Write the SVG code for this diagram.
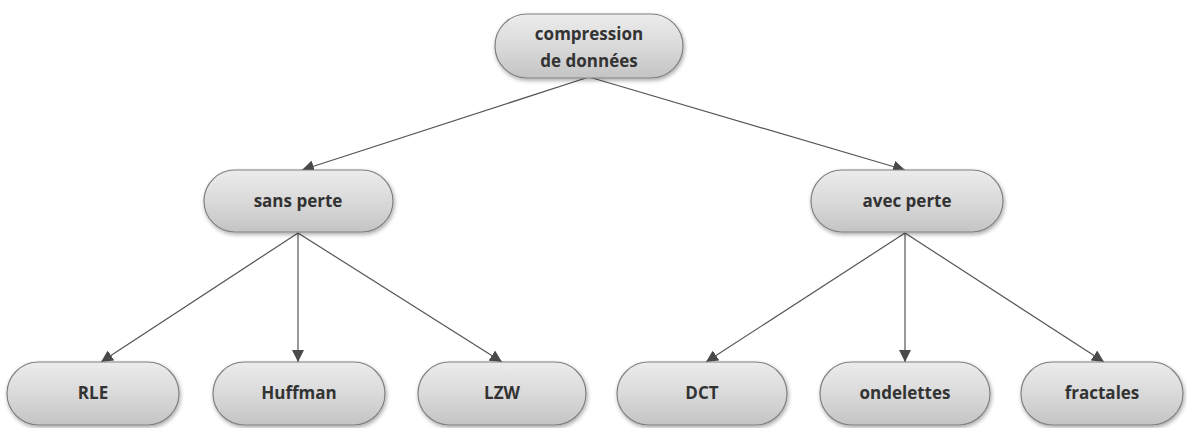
<svg xmlns="http://www.w3.org/2000/svg" width="1187" height="428" viewBox="0 0 1187 428">
<defs>
<linearGradient id="g" x1="0" y1="0" x2="0" y2="1">
<stop offset="0" stop-color="#ececec"/>
<stop offset="0.5" stop-color="#dadada"/>
<stop offset="1" stop-color="#c4c4c4"/>
</linearGradient>
<filter id="sh" x="-10%" y="-20%" width="120%" height="150%">
<feGaussianBlur in="SourceAlpha" stdDeviation="2"/>
<feOffset dx="1" dy="2" result="b"/>
<feComponentTransfer><feFuncA type="linear" slope="0.35"/></feComponentTransfer>
<feMerge><feMergeNode/><feMergeNode in="SourceGraphic"/></feMerge>
</filter>
<marker id="ah" viewBox="0 0 10 10" refX="10" refY="5" markerWidth="12" markerHeight="12" markerUnits="userSpaceOnUse" orient="auto">
<path d="M0,0 L10,5 L0,10 z" fill="#4a4a4a"/>
</marker>
</defs>
<style>
.n rect{fill:url(#g);stroke:#808080;stroke-width:1.2;filter:url(#sh)}
.n text{font-family:"Open Sans","DejaVu Sans",sans-serif;font-weight:700;font-size:17px;fill:#333;text-anchor:middle}
.c line{stroke:#555;stroke-width:1.2;marker-end:url(#ah)}
</style>
<rect width="1187" height="428" fill="#fff"/>
<g class="c">
<line x1="589" y1="77" x2="302" y2="170"/>
<line x1="589" y1="77" x2="905" y2="170"/>
<line x1="298" y1="233" x2="101" y2="362"/>
<line x1="298" y1="233" x2="298" y2="362"/>
<line x1="298" y1="233" x2="502" y2="362"/>
<line x1="905" y1="233" x2="706" y2="362"/>
<line x1="905" y1="233" x2="905" y2="362"/>
<line x1="905" y1="233" x2="1104" y2="362"/>
</g>
<g id="root" class="n"><rect x="495" y="14" width="188" height="64" rx="32"/><text x="589" y="40">compression</text><text x="589" y="67">de données</text></g>
<g id="sans" class="n"><rect x="204" y="170" width="189" height="62" rx="31"/><text x="298" y="207">sans perte</text></g>
<g id="avec" class="n"><rect x="811" y="170" width="192" height="62" rx="31"/><text x="907" y="207">avec perte</text></g>
<g id="rle" class="n"><rect x="7" y="362" width="172" height="63" rx="31.5"/><text x="93" y="399">RLE</text></g>
<g id="huffman" class="n"><rect x="213" y="362" width="172" height="63" rx="31.5"/><text x="299" y="399">Huffman</text></g>
<g id="lzw" class="n"><rect x="418" y="362" width="168" height="63" rx="31.5"/><text x="502" y="399">LZW</text></g>
<g id="dct" class="n"><rect x="617" y="362" width="170" height="63" rx="31.5"/><text x="702" y="399">DCT</text></g>
<g id="ondelettes" class="n"><rect x="820" y="362" width="170" height="63" rx="31.5"/><text x="905" y="399">ondelettes</text></g>
<g id="fractales" class="n"><rect x="1021" y="362" width="162" height="63" rx="31.5"/><text x="1102" y="399">fractales</text></g>
</svg>
